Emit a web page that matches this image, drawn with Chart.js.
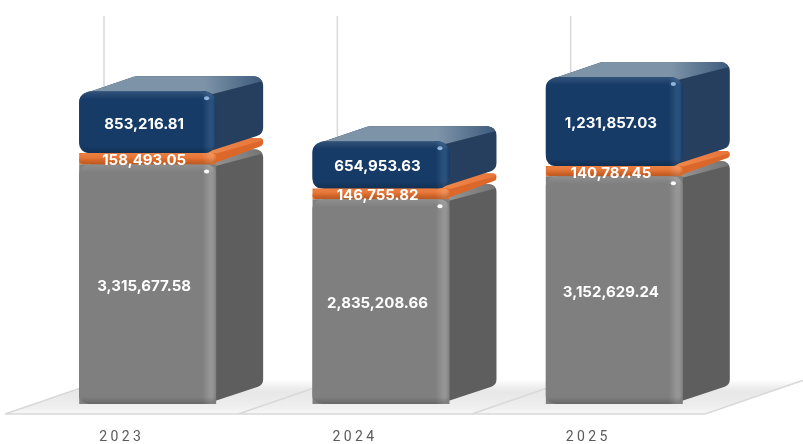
<!DOCTYPE html>
<html>
<head>
<meta charset="utf-8">
<style>
  html, body { margin: 0; background: #fff; }
  canvas { display: block; }
</style>
<script src="https://cdn.jsdelivr.net/npm/chart.js@4/dist/chart.umd.min.js"></script>
</head>
<body>
<canvas id="chart" width="803" height="444"></canvas>
<script>
const years = ['2023', '2024', '2025'];
const baseValues = [3315677.58, 2835208.66, 3152629.24];
const midValues = [158493.05, 146755.82, 140787.45];
const topValues = [853216.81, 654953.63, 1231857.03];

// ── Depth of the extruded boxes ──

const BOX_DX = 47;
const BOX_DY_TOP = 15;
const BOX_DY_BOTTOM = 19;
const FLOOR_DX = 99;
const FLOOR_DY = 34;
const FLOOR_DROP = 10;

const LABEL_SHIFT = -26;

const skins = [
  { front: '#7f7f7f', top: ['#9a9a9a', '#747474'], side: '#5e5e5e', shine: '#959595', radius: 10, dot: '#ffffff' },
  { front: '#e76f2b', top: ['#ee8a4c', '#e9743a'], side: '#dc672a', shine: '#ee864a', radius: 5, dot: null },
  { front: '#163b66', top: ['#7d93a8', '#3d5a7c'], side: '#263f5e', shine: '#2a507c', radius: 12, dot: '#8fb6dc' },
];

const fmtValue = n => n.toLocaleString('en-US', { minimumFractionDigits: 2, maximumFractionDigits: 2 });

// ── Drawing helpers ──

function roundedPoly(ctx, pts, r) {
  const n = pts.length;
  ctx.beginPath();
  ctx.moveTo((pts[n - 1][0] + pts[0][0]) / 2, (pts[n - 1][1] + pts[0][1]) / 2);
  pts.forEach((p, i) => {
    const next = pts[(i + 1) % n];
    ctx.arcTo(p[0], p[1], next[0], next[1], r);
  });
  ctx.closePath();
}

function boxRect(el) {
  const p = el.getProps(['x', 'y', 'base', 'width'], true);
  return { left: p.x - p.width / 2, right: p.x + p.width / 2, top: p.y, bottom: p.base, cx: p.x };
}

function drawFloor(chart) {
  const { ctx, chartArea, scales } = chart;
  const y0 = chartArea.bottom + FLOOR_DROP;
  const yBack = y0 - FLOOR_DY;
  const band = scales.x.getPixelForTick(1) - scales.x.getPixelForTick(0);
  const startX = scales.x.getPixelForTick(0) - band / 2 + LABEL_SHIFT;
  const endX = startX + band * years.length;

  const shade = ctx.createLinearGradient(0, yBack, 0, y0);
  shade.addColorStop(0, 'rgba(225,225,225,0)');
  shade.addColorStop(0.35, '#e7e7e7');
  shade.addColorStop(0.75, '#eeeeee');
  shade.addColorStop(1, '#f7f7f7');
  ctx.save();
  ctx.fillStyle = shade;
  ctx.beginPath();
  ctx.moveTo(startX, y0);
  ctx.lineTo(startX + FLOOR_DX, yBack);
  ctx.lineTo(endX + FLOOR_DX, yBack);
  ctx.lineTo(endX, y0);
  ctx.closePath();
  ctx.fill();

  ctx.strokeStyle = '#d9d9d9';
  ctx.lineWidth = 1.5;
  ctx.beginPath();
  ctx.moveTo(startX, y0);
  ctx.lineTo(endX, y0);
  for (let i = 0; i <= years.length; i++) {
    const x = startX + band * i;
    ctx.moveTo(x, y0);
    ctx.lineTo(x + FLOOR_DX, yBack);
    if (i < years.length) {
      ctx.moveTo(x + FLOOR_DX, yBack);
      ctx.lineTo(x + FLOOR_DX, chartArea.top);
    }
  }
  ctx.stroke();
  ctx.restore();
}

function drawBoxBack(ctx, r, skin) {
  const rad = Math.min(skin.radius, (r.bottom - r.top) / 2);
  const backX = r.right + BOX_DX;
  const backTop = r.top - BOX_DY_TOP;
  const backBottom = r.bottom - BOX_DY_BOTTOM;

  // outline of everything behind the front face, in the side colour
  ctx.save();
  ctx.fillStyle = skin.side;
  roundedPoly(ctx, [
    [r.left, r.top + 4],
    [r.left + BOX_DX + 9, backTop],
    [backX, backTop],
    [backX, backBottom],
    [r.right - rad, r.bottom],
    [r.left, r.bottom],
  ], rad * 0.75);
  ctx.fill();
  ctx.clip();

  // top face, clipped to the outline, darkening towards the back right corner
  const topFill = ctx.createLinearGradient(r.left, 0, backX, 0);
  topFill.addColorStop(0, skin.top[0]);
  topFill.addColorStop(0.68, skin.top[0]);
  topFill.addColorStop(1, skin.top[1]);
  ctx.fillStyle = topFill;
  ctx.beginPath();
  ctx.moveTo(r.left, r.top + 4);
  ctx.lineTo(r.left + BOX_DX + 9, backTop - 2);
  ctx.lineTo(backX + 2, backTop - 2);
  ctx.lineTo(backX + 2, backTop + rad * 0.35);
  ctx.lineTo(r.right - rad, r.top + rad * 0.4);
  ctx.closePath();
  ctx.fill();
  ctx.restore();
}

function drawBoxBevel(ctx, r, skin) {
  const rad = Math.min(skin.radius, (r.bottom - r.top) / 2);
  ctx.save();
  ctx.beginPath();
  ctx.roundRect(r.left, r.top, r.right - r.left, r.bottom - r.top, rad);
  ctx.clip();

  const strip = ctx.createLinearGradient(r.right - 14, 0, r.right, 0);
  strip.addColorStop(0, skin.front);
  strip.addColorStop(0.55, skin.shine);
  strip.addColorStop(0.75, skin.shine);
  strip.addColorStop(1, skin.front);
  ctx.fillStyle = strip;
  ctx.fillRect(r.right - 14, r.top, 14, r.bottom - r.top);

  const edge = ctx.createLinearGradient(0, r.bottom - 7, 0, r.bottom);
  edge.addColorStop(0, 'rgba(0,0,0,0)');
  edge.addColorStop(1, 'rgba(0,0,0,0.2)');
  ctx.fillStyle = edge;
  ctx.fillRect(r.left, r.bottom - 7, r.right - r.left, 7);

  const lip = ctx.createLinearGradient(0, r.top, 0, r.top + 8);
  lip.addColorStop(0, 'rgba(255,255,255,0.12)');
  lip.addColorStop(1, 'rgba(255,255,255,0)');
  ctx.fillStyle = lip;
  ctx.fillRect(r.left, r.top, r.right - r.left, 8);
  ctx.restore();

  if (skin.dot) {
    ctx.save();
    ctx.fillStyle = skin.dot;
    ctx.beginPath();
    ctx.ellipse(r.right - 9.5, r.top + 7, 2.6, 2, 0, 0, Math.PI * 2);
    ctx.fill();
    ctx.restore();
  }
}

// ── Plugin: floor, box faces and value labels ──

const boxPlugin = {
  id: 'boxes',
  beforeDraw(chart) {
    chart.ctx.letterSpacing = '3.4px';
  },
  beforeDatasetsDraw(chart) {
    const ctx = chart.ctx;
    ctx.letterSpacing = '0px';
    drawFloor(chart);
    chart.data.datasets.forEach((ds, i) => {
      chart.getDatasetMeta(i).data.forEach(el => drawBoxBack(ctx, boxRect(el), skins[i]));
    });
  },
  afterDatasetsDraw(chart) {
    const ctx = chart.ctx;
    chart.data.datasets.forEach((ds, i) => {
      chart.getDatasetMeta(i).data.forEach(el => drawBoxBevel(ctx, boxRect(el), skins[i]));
    });
    ctx.save();
    ctx.fillStyle = '#ffffff';
    ctx.font = '700 15px Inter, "Open Sans", sans-serif';
    ctx.textAlign = 'center';
    ctx.textBaseline = 'middle';
    chart.data.datasets.forEach((ds, i) => {
      chart.getDatasetMeta(i).data.forEach((el, j) => {
        const r = boxRect(el);
        ctx.fillText(fmtValue(ds.data[j]), r.cx - 3.5, (r.top + r.bottom) / 2 + 2);
      });
    });
    ctx.restore();
  },
};

new Chart(document.getElementById('chart'), {
  type: 'bar',
  data: {
    labels: years,
    datasets: [
      { label: 'Base', data: baseValues, backgroundColor: skins[0].front, borderRadius: skins[0].radius, borderSkipped: false },
      { label: 'Middle', data: midValues, backgroundColor: skins[1].front, borderRadius: skins[1].radius, borderSkipped: false },
      { label: 'Top', data: topValues, backgroundColor: skins[2].front, borderRadius: skins[2].radius, borderSkipped: false },
    ],
  },
  options: {
    responsive: false,
    animation: false,
    layout: { padding: { left: 31, right: 72, top: 16, bottom: 0 } },
    barPercentage: 0.587,
    categoryPercentage: 1,
    plugins: { legend: { display: false }, tooltip: { enabled: false } },
    scales: {
      x: {
        stacked: true,
        grid: { display: false },
        border: { display: false },
        afterFit: s => { s.height = 40; },
        ticks: {
          color: '#5a5a5a',
          font: { family: 'Roboto, sans-serif', size: 14 },
          padding: 17,
          labelOffset: LABEL_SHIFT,
          maxRotation: 0,
        },
      },
      y: { stacked: true, display: false, min: 0, max: 5370000 },
    },
  },
  plugins: [boxPlugin],
});
</script>
</body>
</html>
